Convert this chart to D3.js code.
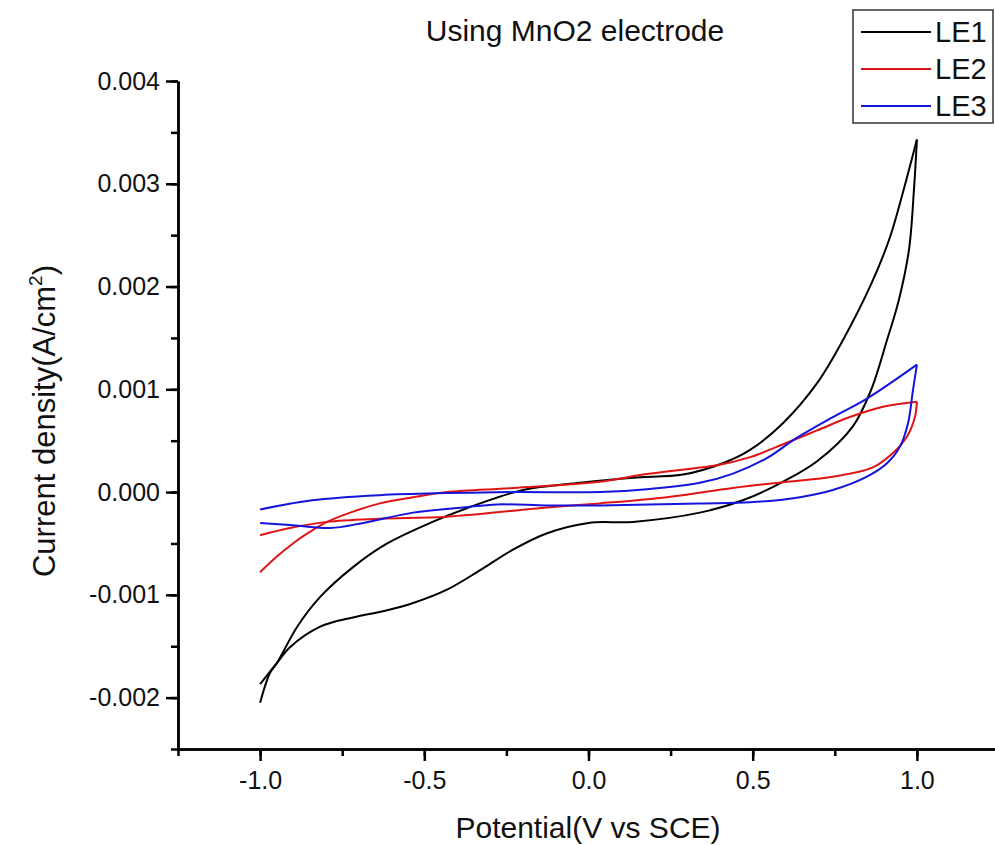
<!DOCTYPE html>
<html>
<head>
	<title>Using MnO2 electrode</title>
	<meta charset="utf-8">
	<style>
	body { margin: 0; background: #fff; }
	svg { display: block; font-family: "Liberation Sans", Arial, sans-serif; }
	.axis .domain, .axis line { stroke: #000; stroke-width: 2.5; }
	.axis text { font-size: 25px; fill: #111; font-family: "Liberation Sans", Arial, sans-serif; }
	</style>
	<script src="https://cdn.jsdelivr.net/npm/d3@7"></script>
</head>
<body>
<svg width="995" height="845"></svg>
<script>

	var seriesNames = ["LE1", "LE2", "LE3"];
	var seriesColors = ["#000000", "#e01414", "#1414dc"];

	var xTicks = [-1.0, -0.5, 0.0, 0.5, 1.0];
	var yTicks = [-0.002, -0.001, 0.000, 0.001, 0.002, 0.003, 0.004];

	// each loop: forward scan -1 -> 1 V, then back to -1 V
	var le1Potential = [-1.0, -0.970, -0.948, -0.887, -0.817, -0.717, -0.613, -0.482, -0.330, -0.199, -0.026, 0.135, 0.288, 0.409, 0.492, 0.592, 0.696, 0.775, 0.863, 0.918, 0.957, 1.0,
		0.991, 0.976, 0.945, 0.909, 0.860, 0.805, 0.696, 0.592, 0.470, 0.339, 0.135, 0.0, -0.126, -0.230, -0.330, -0.431, -0.534, -0.613, -0.717, -0.817, -0.909, -0.948, -1.0];
	var le1Current = [-0.00205, -0.00176, -0.00166, -0.00131, -0.00102, -0.00073, -0.00050, -0.00030, -0.00011, 0.00002, 0.00009, 0.00014, 0.00017, 0.00028, 0.00041, 0.00067, 0.00106, 0.00148, 0.00204, 0.00248, 0.00291, 0.00343,
		0.00294, 0.00236, 0.00187, 0.00148, 0.00099, 0.00064, 0.00030, 0.00010, -0.00008, -0.00020, -0.00029, -0.00030, -0.00040, -0.00056, -0.00076, -0.00095, -0.00108, -0.00115, -0.00122, -0.00131, -0.00151, -0.00166, -0.00187];

	var le2Potential = [-1.0, -0.95, -0.90, -0.85, -0.796, -0.717, -0.635, -0.534, -0.431, -0.230, 0.035, 0.166, 0.239, 0.318, 0.391, 0.492, 0.604, 0.696, 0.796, 0.897, 1.0,
		0.994, 0.970, 0.927, 0.866, 0.744, 0.604, 0.440, 0.239, 0.035, -0.126, -0.431, -0.635, -0.796, -0.909, -1.0];
	var le2Current = [-0.00078, -0.00063, -0.00050, -0.00039, -0.00029, -0.00019, -0.00011, -0.00005, 0.00000, 0.00004, 0.00010, 0.00017, 0.00020, 0.00023, 0.00026, 0.00034, 0.00048, 0.00060, 0.00073, 0.00083, 0.00088,
		0.00073, 0.00054, 0.00038, 0.00024, 0.00015, 0.00010, 0.00004, -0.00005, -0.00011, -0.00015, -0.00024, -0.00026, -0.00029, -0.00035, -0.00042];

	var le3Potential = [-1.0, -0.842, -0.635, -0.431, -0.230, 0.035, 0.187, 0.339, 0.440, 0.543, 0.635, 0.744, 0.848, 1.0,
		0.988, 0.973, 0.948, 0.909, 0.848, 0.744, 0.644, 0.492, 0.339, 0.035, -0.126, -0.279, -0.382, -0.534, -0.686, -0.787, -0.909, -1.0];
	var le3Current = [-0.00017, -0.00008, -0.00003, -0.00001, 0.00000, 0.00000, 0.00003, 0.00009, 0.00018, 0.00033, 0.00053, 0.00073, 0.00091, 0.00124,
		0.00099, 0.00067, 0.00044, 0.00028, 0.00015, 0.00002, -0.00005, -0.00010, -0.00011, -0.00013, -0.00013, -0.00012, -0.00015, -0.00020, -0.00030, -0.00035, -0.00032, -0.00030];

	function makeSeries(name, color, pot, cur) {
		var pts = pot.map(function(v, i) { return {v: v, i: cur[i]}; });
		// split the loop at the turning point (highest potential)
		var turn = d3.maxIndex(pts, function(d) { return d.v; });
		var fwd = pts.slice(0, turn + 1);
		var rev = pts.slice(turn);
		return {name: name, color: color, branches: [fwd, rev]};
	}

	var series = [
		makeSeries(seriesNames[0], seriesColors[0], le1Potential, le1Current),
		makeSeries(seriesNames[1], seriesColors[1], le2Potential, le2Current),
		makeSeries(seriesNames[2], seriesColors[2], le3Potential, le3Current)
	];

	var svg = d3.select("svg");

	var x = d3.scaleLinear().domain([-1.25, 1.25]).range([178, 999]);
	var y = d3.scaleLinear().domain([-0.0025, 0.004]).range([749, 81]);

	// minor ticks first, major on top
	svg.append("g")
		.attr("class", "axis")
		.attr("transform", "translate(0," + y(-0.0025) + ")")
		.call(d3.axisBottom(x).tickValues(d3.range(-1.25, 1.26, 0.25)).tickSize(7).tickSizeOuter(0).tickFormat(""));

	svg.append("g")
		.attr("class", "axis")
		.attr("transform", "translate(0," + y(-0.0025) + ")")
		.call(d3.axisBottom(x).tickValues(xTicks).tickSize(12).tickSizeOuter(0).tickPadding(10)
			.tickFormat(function(d) { return d.toFixed(1); }));

	svg.append("g")
		.attr("class", "axis")
		.attr("transform", "translate(" + x(-1.25) + ",0)")
		.call(d3.axisLeft(y).tickValues(d3.range(-0.0025, 0.00401, 0.0005)).tickSize(7).tickSizeOuter(0).tickFormat(""));

	svg.append("g")
		.attr("class", "axis")
		.attr("transform", "translate(" + x(-1.25) + ",0)")
		.call(d3.axisLeft(y).tickValues(yTicks).tickSize(12).tickSizeOuter(0).tickPadding(6)
			.tickFormat(function(d) { return d.toFixed(3); }));

	var line = d3.line()
		.x(function(d) { return x(d.v); })
		.y(function(d) { return y(d.i); })
		.curve(d3.curveCatmullRom.alpha(0.5));

	var g = svg.append("g");
	series.forEach(function(s) {
		g.selectAll(null)
			.data(s.branches)
			.enter().append("path")
			.attr("d", line)
			.attr("fill", "none")
			.attr("stroke", s.color)
			.attr("stroke-width", 2);
	});

	// title and axis labels
	svg.append("text")
		.attr("x", 575)
		.attr("y", 41)
		.attr("text-anchor", "middle")
		.attr("font-size", 30)
		.attr("fill", "#111")
		.text("Using MnO2 electrode");

	svg.append("text")
		.attr("x", 588)
		.attr("y", 838)
		.attr("text-anchor", "middle")
		.attr("font-size", 30)
		.attr("fill", "#111")
		.text("Potential(V vs SCE)");

	var ylab = svg.append("text")
		.attr("transform", "translate(55,421) rotate(-90)")
		.attr("text-anchor", "middle")
		.attr("font-size", 31)
		.attr("fill", "#111");
	ylab.append("tspan").text("Current density(A/cm");
	ylab.append("tspan").attr("font-size", 19).attr("dy", -13).text("2");
	ylab.append("tspan").attr("dy", 13).text(")");

	// legend
	var legend = svg.append("g");
	legend.append("rect")
		.attr("x", 853).attr("y", 10)
		.attr("width", 140).attr("height", 113)
		.attr("fill", "#fff")
		.attr("stroke", "#333")
		.attr("stroke-width", 1.5);

	var items = legend.selectAll(".item")
		.data(series)
		.enter().append("g")
		.attr("class", "item")
		.attr("transform", function(d, i) { return "translate(0," + (32 + i * 37) + ")"; });

	items.append("line")
		.attr("x1", 861).attr("x2", 931)
		.attr("stroke", function(d) { return d.color; })
		.attr("stroke-width", 2);

	items.append("text")
		.attr("x", 935)
		.attr("dy", "0.36em")
		.attr("font-size", 29)
		.attr("fill", "#111")
		.text(function(d) { return d.name; });

</script>
</body>
</html>
